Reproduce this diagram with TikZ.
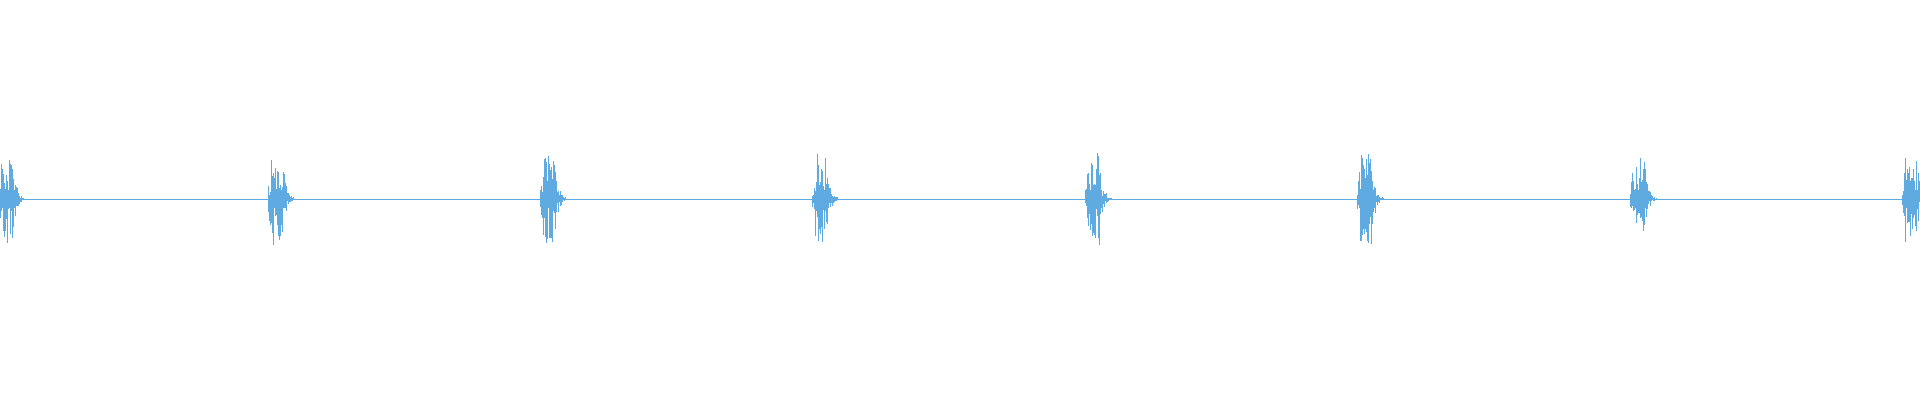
\documentclass[tikz,border=0pt]{standalone}
\definecolor{wave}{RGB}{95,170,225}
\tikzset{wavestroke/.style={draw=wave, line width=0.8pt}}
\begin{document}
\begin{tikzpicture}[x=1pt, y=-1pt]
\useasboundingbox (0,0) rectangle (1920,400);
\pgfmathsetseed{17}
% baseline
\draw[wavestroke, line width=0.9pt] (0,199) -- (1920,199);
% bursts
\foreach \s in {-2,268,540,812,1085,1357,1630,1902}{
  \foreach \i in {0,0.5,...,26}{
    \pgfmathsetmacro{\env}{\i<3 ? 10+8*\i : (\i<14 ? 46 : 46*exp(-(\i-14)/3.5))}
    \pgfmathsetmacro{\up}{\env*(0.15+0.85*rnd^2)}
    \pgfmathsetmacro{\dn}{\env*(0.15+0.85*rnd^2)}
    \draw[wavestroke] (\s+\i,199-\up) -- (\s+\i,199+\dn);
  }
  % dense core
  \fill[wave] (\s+4,190) rectangle (\s+17,208);
}
\end{tikzpicture}
\end{document}
